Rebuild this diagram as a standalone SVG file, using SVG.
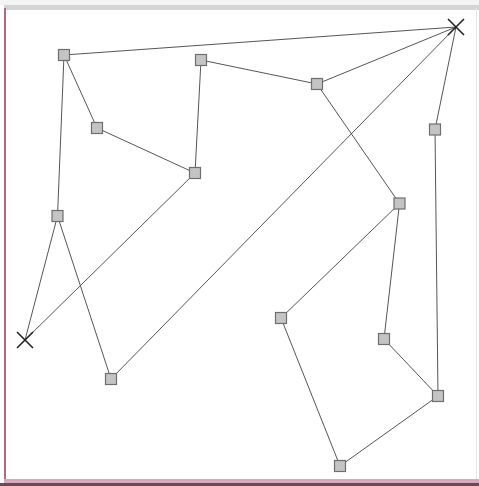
<svg xmlns="http://www.w3.org/2000/svg" width="479" height="486" viewBox="0 0 479 486">
<style>
.n{fill:#c4c4c4;stroke:#6e6e6e;stroke-width:1.2}
.e{stroke:#555;stroke-width:1;fill:none}
.x{stroke:#222;stroke-width:1.6}
</style>
<rect x="0" y="0" width="479" height="486" fill="#fff"/>
<rect x="0" y="0" width="479" height="5" fill="#f4f4f4"/>
<rect x="4" y="5" width="475" height="5" fill="#d4d4d4"/>
<line x1="5" y1="8" x2="5" y2="482" stroke="#b06a88" stroke-width="2"/>
<line x1="476.5" y1="8" x2="476.5" y2="480" stroke="#e4e4e4" stroke-width="1"/>
<rect x="4" y="479" width="475" height="4" fill="#d8a8bc"/>
<rect x="0" y="483" width="479" height="3" fill="#6a4a58"/>
<g id="connectors">
<line class="e" x1="64" y1="55" x2="456" y2="27"/>
<line class="e" x1="64" y1="55" x2="97" y2="128"/>
<line class="e" x1="97" y1="128" x2="195" y2="173"/>
<line class="e" x1="64" y1="55" x2="57.5" y2="216"/>
<line class="e" x1="201" y1="60" x2="195" y2="173"/>
<line class="e" x1="201" y1="60" x2="317" y2="84"/>
<line class="e" x1="317" y1="84" x2="456" y2="27"/>
<line class="e" x1="317" y1="84" x2="399.5" y2="203.5"/>
<line class="e" x1="456" y1="27" x2="435" y2="129.5"/>
<line class="e" x1="435" y1="129.5" x2="438" y2="396"/>
<line class="e" x1="456" y1="27" x2="111" y2="379"/>
<line class="e" x1="195" y1="173" x2="25" y2="340"/>
<line class="e" x1="57.5" y1="216" x2="25" y2="340"/>
<line class="e" x1="57.5" y1="216" x2="111" y2="379"/>
<line class="e" x1="399.5" y1="203.5" x2="281" y2="318"/>
<line class="e" x1="399.5" y1="203.5" x2="384" y2="339"/>
<line class="e" x1="384" y1="339" x2="438" y2="396"/>
<line class="e" x1="438" y1="396" x2="340" y2="466"/>
<line class="e" x1="340" y1="466" x2="281" y2="318"/>
</g>
<g id="nA"><rect class="n" x="58.5" y="49.5" width="11" height="11"/></g>
<g id="nB"><rect class="n" x="91.5" y="122.5" width="11" height="11"/></g>
<g id="nC"><rect class="n" x="195.5" y="54.5" width="11" height="11"/></g>
<g id="nD"><rect class="n" x="189.5" y="167.5" width="11" height="11"/></g>
<g id="nE"><rect class="n" x="311.5" y="78.5" width="11" height="11"/></g>
<g id="nF"><rect class="n" x="429.5" y="124" width="11" height="11"/></g>
<g id="nG"><rect class="n" x="52" y="210.5" width="11" height="11"/></g>
<g id="nH"><rect class="n" x="394" y="198" width="11" height="11"/></g>
<g id="nI"><rect class="n" x="275.5" y="312.5" width="11" height="11"/></g>
<g id="nJ"><rect class="n" x="378.5" y="333.5" width="11" height="11"/></g>
<g id="nK"><rect class="n" x="105.5" y="373.5" width="11" height="11"/></g>
<g id="nL"><rect class="n" x="432.5" y="390.5" width="11" height="11"/></g>
<g id="nM"><rect class="n" x="334.5" y="460.5" width="11" height="11"/></g>
<g id="x1"><path class="x" d="M448 19L464 35M464 19L448 35"/></g>
<g id="x2"><path class="x" d="M17 332L33 348M33 332L17 348"/></g>
</svg>
